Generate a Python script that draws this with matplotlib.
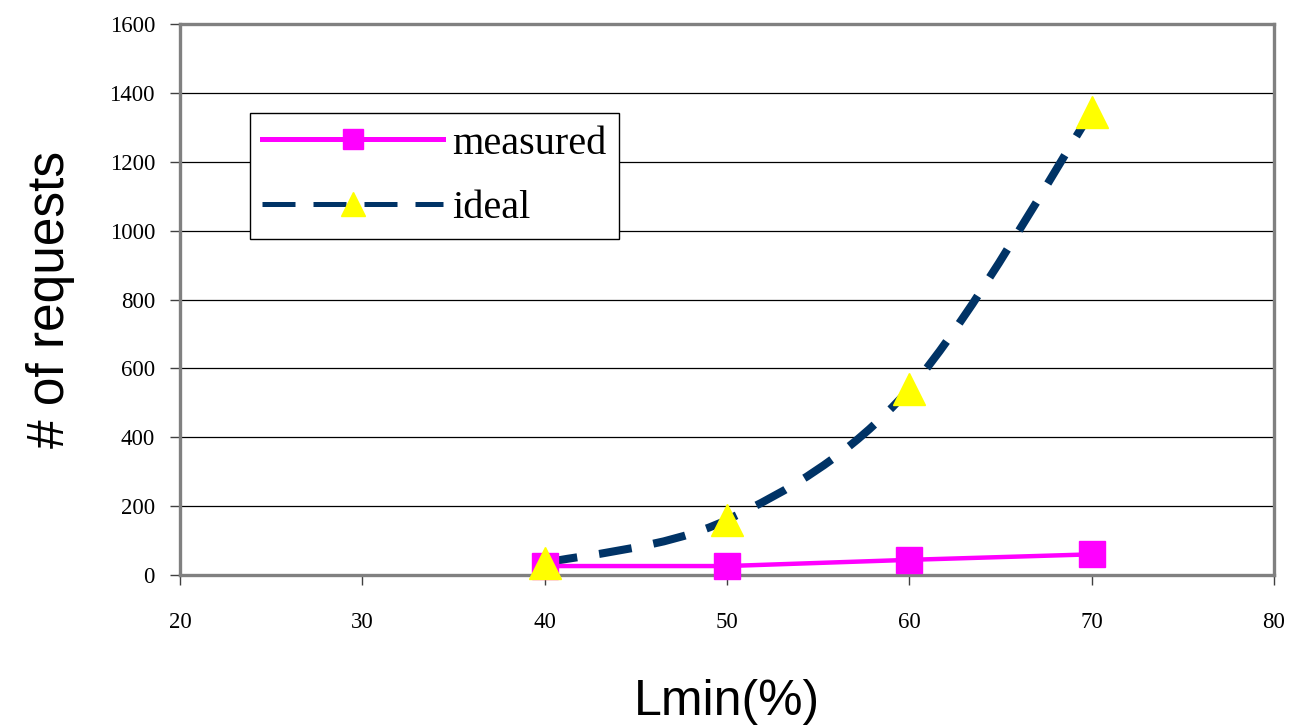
import matplotlib
matplotlib.use("Agg")
import matplotlib.pyplot as plt
from matplotlib.path import Path
from matplotlib.patches import PathPatch
import numpy as np

# data
lmin = [40, 50, 60, 70]
measured = [26, 26, 44, 60]
ideal = [35, 160, 540, 1345]
x_ticks = [20, 30, 40, 50, 60, 70, 80]
y_ticks = [0, 200, 400, 600, 800, 1000, 1200, 1400, 1600]

fig = plt.figure(figsize=(12.91, 7.26), dpi=100)
ax = fig.add_axes([180/1291, 1-575/726, 1094/1291, 551/726])
ax.set_xlim(20, 80)
ax.set_ylim(0, 1600)

serif = "Liberation Serif"
sans = "Liberation Sans"

ax.set_yticks(y_ticks)
ax.set_xticks(x_ticks)
ax.set_yticklabels([str(v) for v in y_ticks], fontfamily=serif, fontsize=16.5)
ax.set_xticklabels([str(v) for v in x_ticks], fontfamily=serif, fontsize=16.5)
ax.tick_params(axis='y', direction='out', length=7, width=1, color='#404040', pad=11)
ax.tick_params(axis='x', direction='out', length=7, width=1, color='#404040', pad=20)
for t in ax.get_xticklabels() + ax.get_yticklabels():
    t.set_color('black')

ax.grid(axis='y', color='black', linewidth=0.9)
ax.set_axisbelow(True)
for s in ax.spines.values():
    s.set_color('#808080')
    s.set_linewidth(2.4)

# smoothed ideal curve (Bezier through data points)
pts = np.column_stack([lmin, ideal]).astype(float)
verts = [tuple(pts[0])]
codes = [Path.MOVETO]
n = len(pts)
for i in range(n - 1):
    p0 = pts[i - 1] if i > 0 else pts[i]
    p1 = pts[i]
    p2 = pts[i + 1]
    p3 = pts[i + 2] if i + 2 < n else pts[i + 1]
    c1 = p1 + (p2 - p0) / 6.0
    c2 = p2 - (p3 - p1) / 6.0
    verts += [tuple(c1), tuple(c2), tuple(p2)]
    codes += [Path.CURVE4] * 3
patch = PathPatch(Path(verts, codes), facecolor='none', edgecolor='#003366',
                  linewidth=5.8, linestyle=(0, (4.1, 2.75)), capstyle='butt', zorder=3)
ax.add_patch(patch)

# measured line
ax.plot(lmin, measured, color='#FF00FF', linewidth=3.2, marker='s', markersize=19.4,
        markerfacecolor='#FF00FF', markeredgecolor='#FF00FF', zorder=4, clip_on=False)
# ideal markers
ax.plot(lmin, ideal, linestyle='none', marker='^', markersize=23,
        markerfacecolor='#FFFF00', markeredgecolor='#FFFF00', zorder=5, clip_on=False)

# legend handles
h1, = ax.plot([], [], color='#FF00FF', linewidth=3.6, marker='s', markersize=14,
              markerfacecolor='#FF00FF', markeredgecolor='#FF00FF')
h2, = ax.plot([], [], color='#003366', linewidth=3.6, linestyle=(0, (6.6, 3.6)),
              marker='^', markersize=17, markerfacecolor='#FFFF00', markeredgecolor='#FFFF00',
              dash_capstyle='butt')
leg = ax.legend([h1, h2], ['measured', 'ideal'], loc='upper left',
                bbox_to_anchor=(0.064, 0.838), borderaxespad=0, fancybox=False,
                edgecolor='black', framealpha=1, handlelength=4.5, handletextpad=0.22,
                labelspacing=0.68, borderpad=0.3,
                prop={'family': serif, 'size': 29})
leg.get_frame().set_linewidth(1.0)
leg.set_zorder(6)

ax.set_xlabel('Lmin(%)', fontfamily=sans, fontsize=36, labelpad=33)
ax.set_ylabel('# of requests', fontfamily=sans, fontsize=37, labelpad=25)

fig.savefig('out.png', dpi=100)
